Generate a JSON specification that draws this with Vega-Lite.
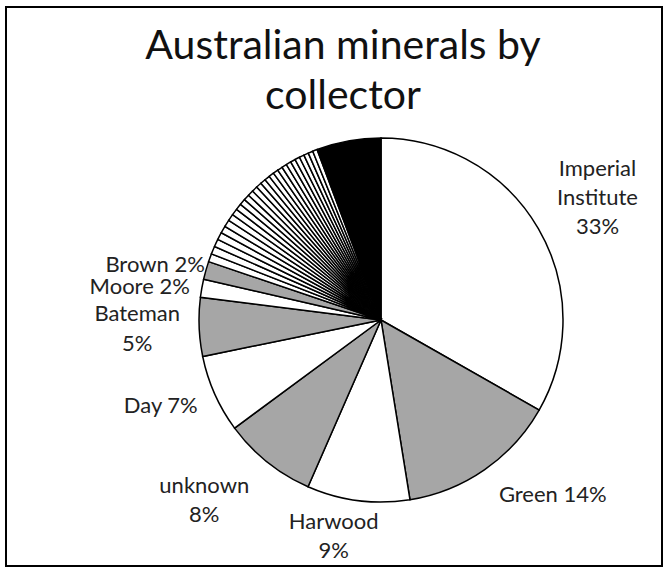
{
  "$schema": "https://vega.github.io/schema/vega-lite/v6.json",
  "autosize": {"type": "none"},
  "width": 656,
  "height": 559,
  "padding": {"left": 6, "top": 7, "right": 5, "bottom": 2},
  "background": "white",
  "view": {"stroke": "black", "strokeWidth": 2, "fill": "white"},
  "config": {"view": {"stroke": "black", "strokeWidth": 2}, "font": "Lato"},
  "title": {
    "text": ["Australian minerals by", "collector"],
    "orient": "top",
    "anchor": "middle",
    "frame": "group",
    "baseline": "top",
    "offset": 0,
    "dy": 111,
    "dx": 9,
    "fontSize": 41,
    "fontWeight": "normal",
    "lineHeight": 50,
    "color": "#111111",
    "font": "Lato"
  },
  "data": {
    "values": [
      {"idx": 1, "collector": "Imperial Institute", "pct": 33.2, "group": "A", "label": "Imperial\nInstitute\n33%"},
      {"idx": 2, "collector": "Green", "pct": 14.2, "group": "B", "label": "Green 14%"},
      {"idx": 3, "collector": "Harwood", "pct": 9.1, "group": "A", "label": "Harwood\n9%"},
      {"idx": 4, "collector": "unknown", "pct": 8.3, "group": "B", "label": "unknown\n8%"},
      {"idx": 5, "collector": "Day", "pct": 6.9, "group": "A", "label": "Day 7%"},
      {"idx": 6, "collector": "Bateman", "pct": 5.2, "group": "B", "label": "Bateman\n5%"},
      {"idx": 7, "collector": "Moore", "pct": 1.6, "group": "A", "label": "Moore  2%"},
      {"idx": 8, "collector": "Brown", "pct": 1.6, "group": "B", "label": "Brown 2%"},
      {"idx": 9, "collector": "Other 1", "pct": 0.72, "group": "A", "label": ""},
      {"idx": 10, "collector": "Other 2", "pct": 0.70, "group": "A", "label": ""},
      {"idx": 11, "collector": "Other 3", "pct": 0.68, "group": "A", "label": ""},
      {"idx": 12, "collector": "Other 4", "pct": 0.66, "group": "A", "label": ""},
      {"idx": 13, "collector": "Other 5", "pct": 0.64, "group": "A", "label": ""},
      {"idx": 14, "collector": "Other 6", "pct": 0.62, "group": "A", "label": ""},
      {"idx": 15, "collector": "Other 7", "pct": 0.60, "group": "A", "label": ""},
      {"idx": 16, "collector": "Other 8", "pct": 0.58, "group": "A", "label": ""},
      {"idx": 17, "collector": "Other 9", "pct": 0.56, "group": "A", "label": ""},
      {"idx": 18, "collector": "Other 10", "pct": 0.54, "group": "A", "label": ""},
      {"idx": 19, "collector": "Other 11", "pct": 0.52, "group": "A", "label": ""},
      {"idx": 20, "collector": "Other 12", "pct": 0.51, "group": "A", "label": ""},
      {"idx": 21, "collector": "Other 13", "pct": 0.50, "group": "A", "label": ""},
      {"idx": 22, "collector": "Other 14", "pct": 0.49, "group": "A", "label": ""},
      {"idx": 23, "collector": "Other 15", "pct": 0.48, "group": "A", "label": ""},
      {"idx": 24, "collector": "Other 16", "pct": 0.47, "group": "A", "label": ""},
      {"idx": 25, "collector": "Other 17", "pct": 0.46, "group": "A", "label": ""},
      {"idx": 26, "collector": "Other 18", "pct": 0.46, "group": "A", "label": ""},
      {"idx": 27, "collector": "Other 19", "pct": 0.45, "group": "A", "label": ""},
      {"idx": 28, "collector": "Other 20", "pct": 0.45, "group": "A", "label": ""},
      {"idx": 29, "collector": "Other 21", "pct": 0.44, "group": "A", "label": ""},
      {"idx": 30, "collector": "Other 22", "pct": 0.44, "group": "A", "label": ""},
      {"idx": 31, "collector": "Other 23", "pct": 0.43, "group": "A", "label": ""},
      {"idx": 32, "collector": "Other 24", "pct": 0.43, "group": "A", "label": ""},
      {"idx": 33, "collector": "Other 25", "pct": 0.42, "group": "A", "label": ""},
      {"idx": 34, "collector": "Other 26", "pct": 0.42, "group": "A", "label": ""},
      {"idx": 35, "collector": "Other 27", "pct": 0.41, "group": "A", "label": ""},
      {"idx": 36, "collector": "Remaining", "pct": 5.7, "group": "C", "label": ""}
    ]
  },
  "encoding": {
    "theta": {"field": "pct", "type": "quantitative", "stack": true},
    "order": {"field": "idx", "type": "quantitative", "sort": "ascending"}
  },
  "layer": [
    {
      "mark": {"type": "arc", "outerRadius": 182, "stroke": "black", "strokeWidth": 1.5, "xOffset": 47, "yOffset": 33.5},
      "encoding": {
        "color": {
          "field": "group",
          "type": "nominal",
          "scale": {"domain": ["A", "B", "C"], "range": ["#ffffff", "#a6a6a6", "#000000"]},
          "legend": null
        }
      }
    },
    {
      "mark": {"type": "text", "radius": 240, "xOffset": 47, "yOffset": 33.5, "dx": 9, "dy": -30, "fontSize": 22, "lineBreak": "\n", "lineHeight": 29, "align": "center", "baseline": "middle", "color": "#222222", "font": "Lato"},
      "encoding": {"text": {"condition": {"test": "datum.collector == 'Imperial Institute'", "field": "label"}, "value": ""}}
    },
    {
      "mark": {"type": "text", "radius": 240, "xOffset": 47, "yOffset": 33.5, "dx": 35, "dy": -22, "fontSize": 22, "lineBreak": "\n", "lineHeight": 29, "align": "center", "baseline": "middle", "color": "#222222", "font": "Lato"},
      "encoding": {"text": {"condition": {"test": "datum.collector == 'Green'", "field": "label"}, "value": ""}}
    },
    {
      "mark": {"type": "text", "radius": 240, "xOffset": 47, "yOffset": 33.5, "dx": -17, "dy": -36, "fontSize": 22, "lineBreak": "\n", "lineHeight": 29, "align": "center", "baseline": "middle", "color": "#222222", "font": "Lato"},
      "encoding": {"text": {"condition": {"test": "datum.collector == 'Harwood'", "field": "label"}, "value": ""}}
    },
    {
      "mark": {"type": "text", "radius": 240, "xOffset": 47, "yOffset": 33.5, "dx": -27, "dy": -22, "fontSize": 22, "lineBreak": "\n", "lineHeight": 29, "align": "center", "baseline": "middle", "color": "#222222", "font": "Lato"},
      "encoding": {"text": {"condition": {"test": "datum.collector == 'unknown'", "field": "label"}, "value": ""}}
    },
    {
      "mark": {"type": "text", "radius": 240, "xOffset": 47, "yOffset": 33.5, "dx": -1, "dy": -12, "fontSize": 22, "lineBreak": "\n", "lineHeight": 29, "align": "center", "baseline": "middle", "color": "#222222", "font": "Lato"},
      "encoding": {"text": {"condition": {"test": "datum.collector == 'Day'", "field": "label"}, "value": ""}}
    },
    {
      "mark": {"type": "text", "radius": 240, "xOffset": 47, "yOffset": 33.5, "dx": -4, "dy": -15, "fontSize": 22, "lineBreak": "\n", "lineHeight": 30, "align": "center", "baseline": "middle", "color": "#222222", "font": "Lato"},
      "encoding": {"text": {"condition": {"test": "datum.collector == 'Bateman'", "field": "label"}, "value": ""}}
    },
    {
      "mark": {"type": "text", "radius": 240, "xOffset": 47, "yOffset": 33.5, "dx": -5, "dy": 9, "fontSize": 22, "lineBreak": "\n", "lineHeight": 29, "align": "center", "baseline": "middle", "color": "#222222", "font": "Lato"},
      "encoding": {"text": {"condition": {"test": "datum.collector == 'Moore'", "field": "label"}, "value": ""}}
    },
    {
      "mark": {"type": "text", "radius": 240, "xOffset": 47, "yOffset": 33.5, "dx": 5, "dy": 10, "fontSize": 22, "lineBreak": "\n", "lineHeight": 29, "align": "center", "baseline": "middle", "color": "#222222", "font": "Lato"},
      "encoding": {"text": {"condition": {"test": "datum.collector == 'Brown'", "field": "label"}, "value": ""}}
    }
  ]
}
